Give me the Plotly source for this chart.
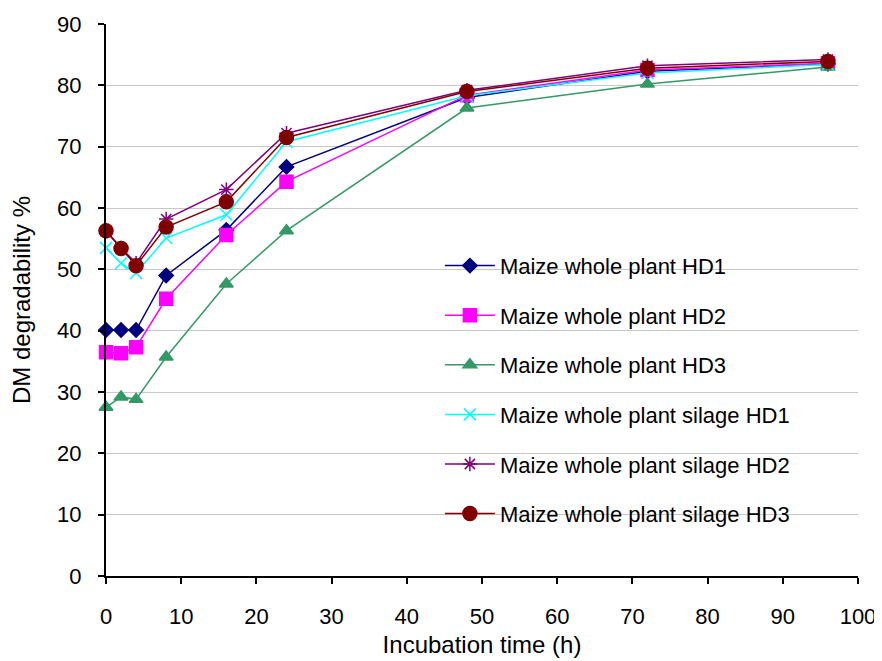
import plotly.graph_objects as go

hours = [0, 2, 4, 8, 16, 24, 48, 72, 96]

names = [
    "Maize whole plant HD1",
    "Maize whole plant HD2",
    "Maize whole plant HD3",
    "Maize whole plant silage HD1",
    "Maize whole plant silage HD2",
    "Maize whole plant silage HD3",
]

wp_hd1 = [40.1, 40.1, 40.1, 49.0, 56.4, 66.7, 78.0, 82.3, 83.5]
wp_hd2 = [36.5, 36.3, 37.3, 45.2, 55.6, 64.3, 78.4, 82.5, 83.6]
wp_hd3 = [27.5, 29.2, 28.8, 35.7, 47.6, 56.3, 76.3, 80.2, 83.0]
sil_hd1 = [53.5, 51.0, 49.4, 55.1, 58.9, 70.8, 78.3, 82.0, 83.4]
sil_hd2 = [56.2, 53.5, 51.0, 58.2, 63.0, 72.2, 79.2, 83.2, 84.2]
sil_hd3 = [56.3, 53.4, 50.6, 56.9, 61.0, 71.5, 79.0, 82.8, 83.9]

series = [wp_hd1, wp_hd2, wp_hd3, sil_hd1, sil_hd2, sil_hd3]
colors = ["#000080", "#ff00ff", "#339966", "#00ffff", "#800080", "#800000"]
symbols = ["diamond", "square", "triangle-up", "x-thin-open", "asterisk-open", "circle"]
sizes = [11, 13, 12, 12, 12, 14]

x_ticks = list(range(0, 101, 10))
y_ticks = list(range(0, 91, 10))

FAM = "Liberation Sans, Arial, sans-serif"

fig = go.Figure()
for i, (nm, ys) in enumerate(zip(names, series)):
    fig.add_trace(go.Scatter(
        x=hours, y=ys, name=nm, mode="lines+markers",
        legendgroup=str(i), cliponaxis=False,
        line=dict(color=colors[i], width=1.5),
        marker=dict(symbol=symbols[i], size=sizes[i], color=colors[i],
                    line=dict(color=colors[i], width=1.5)),
    ))

# white box behind legend, hiding gridlines (as in the original)
fig.add_shape(type="rect", xref="paper", yref="paper",
              x0=0.398, x1=1.0, y0=0.08, y1=0.61,
              fillcolor="white", line=dict(width=0), layer="between")

tick_font = dict(family=FAM, size=22, color="black")
title_font = dict(family=FAM, size=24, color="black")

fig.update_layout(
    width=874, height=653,
    margin=dict(l=98, r=24, t=16, b=85, autoexpand=False),
    paper_bgcolor="white", plot_bgcolor="white",
    font=dict(family=FAM, size=22, color="black"),
    showlegend=True,
    legend=dict(
        x=0.444, y=0.60, xanchor="left", yanchor="top",
        bgcolor="rgba(0,0,0,0)", borderwidth=0,
        font=dict(family=FAM, size=22, color="black"),
        tracegroupgap=18, itemwidth=50,
        traceorder="grouped",
    ),
    xaxis=dict(
        range=[0, 100], tickvals=x_ticks, ticktext=[str(v) for v in x_ticks],
        tickfont=tick_font, automargin=False, ticklabeloverflow="allow",
        showline=True, linecolor="black", linewidth=2,
        ticks="outside", ticklen=6, tickcolor="black", tickwidth=1.5,
        ticklabelstandoff=14,
        showgrid=False, zeroline=False,
        title=dict(text="Incubation time (h)", font=title_font, standoff=8),
    ),
    yaxis=dict(
        range=[0, 90], tickvals=y_ticks, ticktext=[str(v) for v in y_ticks],
        tickfont=tick_font, automargin=False,
        showline=True, linecolor="black", linewidth=2,
        ticks="outside", ticklen=6, tickcolor="black", tickwidth=1.5,
        ticklabelstandoff=12,
        showgrid=True, gridcolor="#c8c8c8", gridwidth=1,
        zeroline=False,
        title=dict(text="DM degradability %", font=title_font, standoff=24),
    ),
)

fig.write_html("out.html")
